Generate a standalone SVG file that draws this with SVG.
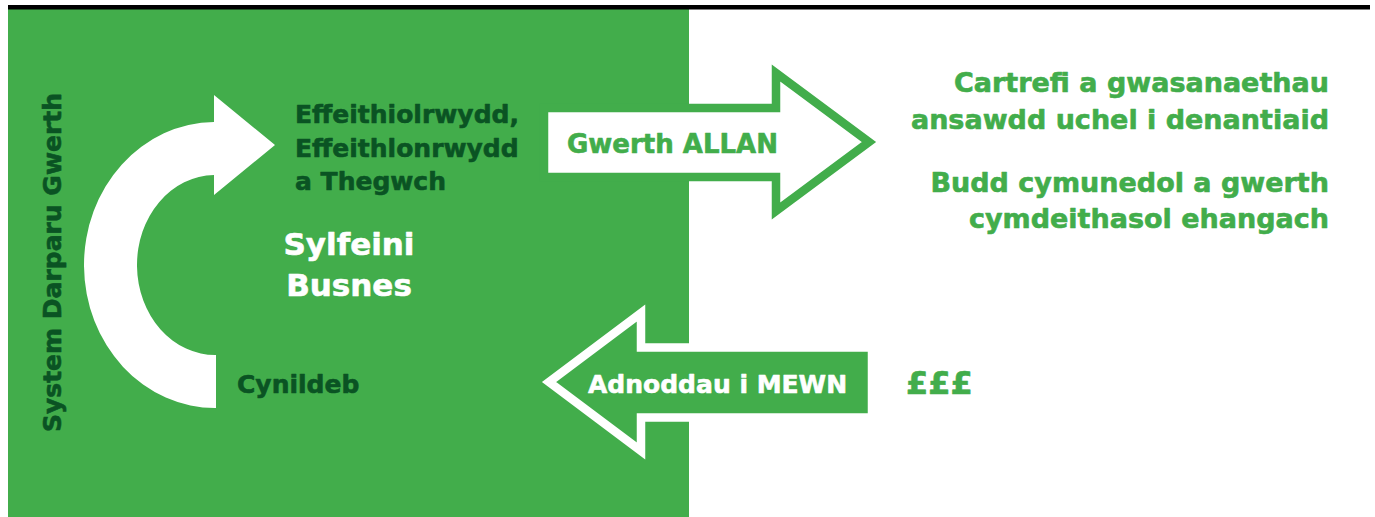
<svg xmlns="http://www.w3.org/2000/svg" width="1375" height="517" viewBox="0 0 1375 517">
<style>
  text { font-family: "DejaVu Sans", "Liberation Sans", sans-serif; font-weight: bold; stroke-width: 0.6; stroke-linejoin: round; }
  .dark { fill: #0a5323; stroke: #0a5323; font-size: 25px; }
  .white { fill: #ffffff; stroke: #ffffff; }
  .green { fill: #42ad4b; stroke: #42ad4b; }
  .right { font-size: 27px; text-anchor: end; }
</style>
<rect width="1375" height="517" fill="#ffffff"/>
<g id="panel">
  <rect x="8" y="9" width="681" height="508" fill="#42ad4b"/>
  <rect x="8" y="5" width="1362" height="4.5" fill="#000000"/>
</g>
<g id="connectors">
  <path id="cycle-arrow" d="M 216 408 A 131 143 0 0 1 214 122 L 214 95 L 275 145 L 214 195 L 214 175 A 78 90 0 0 0 216 355 Z" fill="#ffffff"/>
  <g id="arrow-out">
    <polygon points="544,108 776,108 776,73 869,142 776,211 776,177 544,177" fill="#ffffff" stroke="#42ad4b" stroke-width="8.5"/>
    <text x="567" y="153" class="green" font-size="26">Gwerth ALLAN</text>
  </g>
  <g id="arrow-in">
    <polygon points="872,347.5 641,347.5 641,313 549,382 641,451 641,417.5 872,417.5" fill="#42ad4b" stroke="#ffffff" stroke-width="8.5"/>
    <text x="588" y="393" class="white" font-size="25">Adnoddau i MEWN</text>
  </g>
</g>
<g id="node-system">
  <text class="dark" transform="translate(61,262.5) rotate(-90)" text-anchor="middle" font-size="25.5">System Darparu Gwerth</text>
</g>
<g id="node-effeithiol">
  <text class="dark" x="295" y="123">Effeithiolrwydd,</text>
  <text class="dark" x="295" y="157">Effeithlonrwydd</text>
  <text class="dark" x="295" y="190">a Thegwch</text>
</g>
<g id="node-sylfeini">
  <text class="white" x="349" y="255" font-size="31" text-anchor="middle">Sylfeini</text>
  <text class="white" x="349" y="296" font-size="31" text-anchor="middle">Busnes</text>
</g>
<g id="node-cynildeb">
  <text class="dark" x="237" y="393">Cynildeb</text>
</g>
<g id="node-cartrefi">
  <text class="green right" x="1329" y="92">Cartrefi a gwasanaethau</text>
  <text class="green right" x="1329" y="129">ansawdd uchel i denantiaid</text>
</g>
<g id="node-budd">
  <text class="green right" x="1329" y="192">Budd cymunedol a gwerth</text>
  <text class="green right" x="1329" y="228">cymdeithasol ehangach</text>
</g>
<g id="node-money">
  <text class="green" x="906" y="394" font-size="32">£££</text>
</g>
</svg>
